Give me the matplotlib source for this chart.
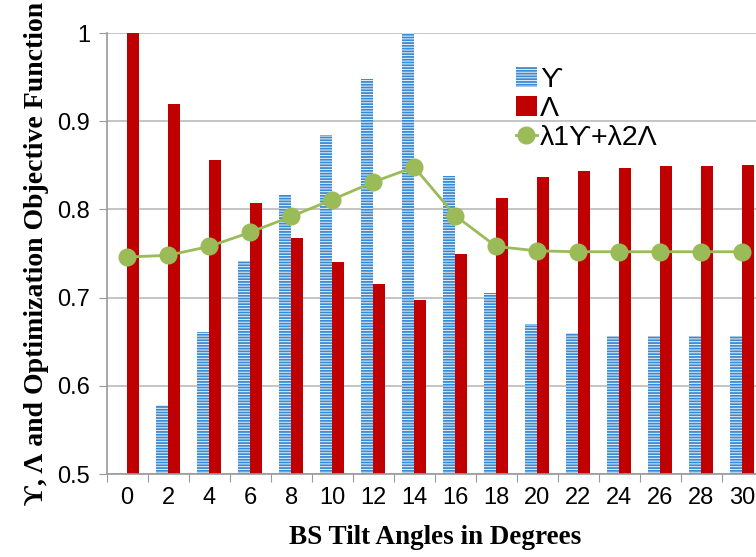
import matplotlib
matplotlib.use("Agg")
import matplotlib.pyplot as plt
import numpy as np

# values
tilt_angles = ["0", "2", "4", "6", "8", "10", "12", "14", "16", "18", "20", "22", "24", "26", "28", "30"]
upsilon = [0.5, 0.578, 0.661, 0.741, 0.816, 0.884, 0.948, 1.0, 0.838, 0.705, 0.670, 0.660, 0.657, 0.657, 0.656, 0.656]
lam = [1.0, 0.920, 0.856, 0.807, 0.768, 0.740, 0.715, 0.697, 0.749, 0.813, 0.837, 0.844, 0.847, 0.849, 0.849, 0.850]
objective = [0.746, 0.748, 0.758, 0.774, 0.792, 0.811, 0.831, 0.848, 0.793, 0.758, 0.753, 0.752, 0.752, 0.752, 0.752, 0.752]

plt.rcParams['font.family'] = ['Liberation Sans', 'DejaVu Sans']
plt.rcParams['hatch.linewidth'] = 1.3

fig = plt.figure(figsize=(7.56, 5.57), dpi=100)
# plot area runs past the right edge of the picture, as in the reference
ax = fig.add_axes([0.1411, 0.149, 0.8677, 0.7917])

x = np.arange(len(tilt_angles))
w = 0.29
b1 = ax.bar(x - w / 2, upsilon, width=w, facecolor='#eaf3fb', edgecolor='#3a8ad2',
            linewidth=0, hatch='------', zorder=2, label='ϒ')
b2 = ax.bar(x + w / 2, lam, width=w, color='#c00000', zorder=2, label='Λ')
l1, = ax.plot(x, objective, color='#9bbb59', lw=2, marker='o', ms=12, zorder=3, label='λ1ϒ+λ2Λ')

ax.set_ylim(0.5, 1.0)
ax.set_xlim(-0.5, len(tilt_angles) - 0.5)
ax.set_yticks([0.5, 0.6, 0.7, 0.8, 0.9, 1.0])
ax.set_yticklabels(['0.5', '0.6', '0.7', '0.8', '0.9', '1'])
ax.yaxis.grid(True, color='#bfbfbf', lw=1.3, zorder=0)

# boundary ticks below, labels at category centres
ax.set_xticks(np.arange(len(tilt_angles) + 1) - 0.5)
ax.set_xticklabels([])
ax.set_xticks(x, minor=True)
ax.set_xticklabels(tilt_angles, minor=True)
ax.tick_params(axis='x', which='major', length=6, color='#999999')
ax.tick_params(axis='x', which='minor', length=0, pad=9, labelsize=17)
ax.tick_params(axis='y', length=6, color='#999999', labelsize=17, pad=6)

for s in ['top', 'right']:
    ax.spines[s].set_visible(False)
for s in ['left', 'bottom']:
    ax.spines[s].set_color('#999999')
    ax.spines[s].set_linewidth(1.2)

ax.set_xlabel('BS Tilt Angles in Degrees', family=['Liberation Serif', 'DejaVu Serif'],
              fontweight='bold', fontsize=19.5, labelpad=12)
ax.set_ylabel('ϒ, Λ and Optimization Objective Function', family=['Liberation Serif', 'DejaVu Serif'],
              fontweight='bold', fontsize=20, labelpad=6)

ax.legend([b1, b2, l1], ['ϒ', 'Λ', 'λ1ϒ+λ2Λ'], loc='upper left',
          bbox_to_anchor=(0.682, 0.88), bbox_transform=fig.transFigure,
          frameon=False, fontsize=20.5, handlelength=0.75, handletextpad=0.1,
          labelspacing=0.1, borderaxespad=0, borderpad=0)

fig.savefig('out.png', dpi=100)
